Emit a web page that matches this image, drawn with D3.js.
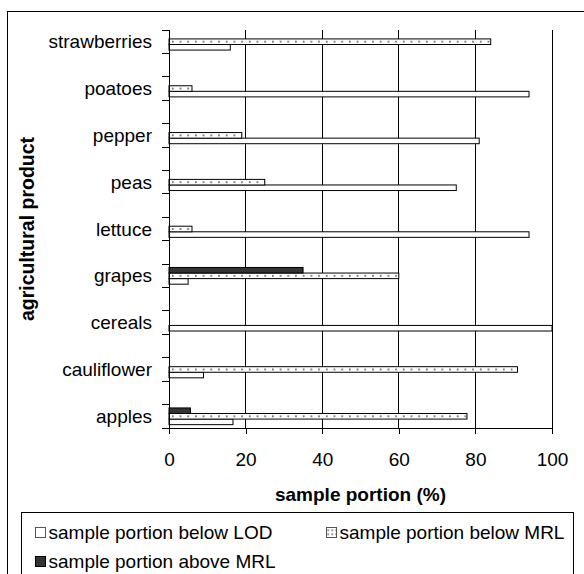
<!DOCTYPE html>
<meta charset="utf-8">
<style>
body { margin: 0; background: #fff; }
svg text {
  font-family: "Liberation Sans", Arial, Helvetica, sans-serif;
  font-size: 19px;
  fill: #000;
}
.title { font-weight: bold; }
.grid line, .axis line, .axis path { stroke: #000; stroke-width: 1px; shape-rendering: crispEdges; }
</style>
<body>
<svg width="584" height="574" id="chart"></svg>

<script src="https://cdn.jsdelivr.net/npm/d3@7"></script>
<script>

// data (percent of samples)
var categories = ["strawberries", "poatoes", "pepper", "peas", "lettuce", "grapes", "cereals", "cauliflower", "apples"];
var belowLOD = [16, 94, 81, 75, 94, 5, 100, 9, 16.7];
var belowMRL = [84, 6, 19, 25, 6, 60, 0, 91, 77.8];
var aboveMRL = [0, 0, 0, 0, 0, 35, 0, 0, 5.6];
var xTicks = [0, 20, 40, 60, 80, 100];
var seriesNames = ["sample portion below LOD", "sample portion below MRL", "sample portion above MRL"];

var margin = {top: 30, right: 32, bottom: 146, left: 169};
var width = 584 - margin.left - margin.right,
    height = 574 - margin.top - margin.bottom;

var svg = d3.select("#chart");

// outer frame of the chart area
svg.append("rect")
    .attr("x", 7.5).attr("y", 11.5)
    .attr("width", 700).attr("height", 700)
    .attr("fill", "#fff").attr("stroke", "#000");

// every category sits in its own slot, with an empty slot between them
var slots = [];
categories.forEach(function(c, i) {
  slots.push(c);
  if (i < categories.length - 1) slots.push("gap" + i);
});

var x = d3.scaleLinear().domain([0, 100]).range([0, width]);
var y = d3.scaleBand().domain(slots).range([0, height]).padding(0);

// top to bottom inside a category: above MRL, below MRL, below LOD
var sub = d3.scaleBand().domain(["above", "mrl", "lod"])
    .range([0, y.bandwidth()]).paddingInner(0).paddingOuter(0.6);

var defs = svg.append("defs");
var dots = defs.append("pattern")
    .attr("id", "dots")
    .attr("patternUnits", "userSpaceOnUse")
    .attr("width", 7.7)
    .attr("height", y.step());
dots.append("rect").attr("width", 7.7).attr("height", y.step()).attr("fill", "#fff");
dots.append("rect")
    .attr("x", 3).attr("y", sub("mrl") + sub.bandwidth() / 2 - 0.75)
    .attr("width", 1.5).attr("height", 1.5).attr("fill", "#333");

var dotsSmall = defs.append("pattern")
    .attr("id", "dotsSmall")
    .attr("patternUnits", "userSpaceOnUse")
    .attr("width", 4).attr("height", 4);
dotsSmall.append("rect").attr("width", 4).attr("height", 4).attr("fill", "#fff");
dotsSmall.append("rect").attr("x", 1).attr("y", 1).attr("width", 1.4).attr("height", 1.4).attr("fill", "#333");

var g = svg.append("g")
    .attr("transform", "translate(" + margin.left + "," + margin.top + ")");

// vertical gridlines
g.append("g").attr("class", "grid")
  .selectAll("line")
  .data(xTicks.slice(1))
  .enter().append("line")
    .attr("x1", function(d) { return x(d); })
    .attr("x2", function(d) { return x(d); })
    .attr("y1", 0)
    .attr("y2", height);

var series = [
  {key: "lod", values: belowLOD, fill: "#fff"},
  {key: "mrl", values: belowMRL, fill: "url(#dots)"},
  {key: "above", values: aboveMRL, fill: "#333"}
];

var rows = [];
series.forEach(function(s) {
  s.values.forEach(function(v, i) {
    if (v > 0) rows.push({cat: categories[i], key: s.key, value: v, fill: s.fill});
  });
});

g.selectAll(".bar")
  .data(rows)
  .enter().append("rect")
    .attr("class", "bar")
    .attr("x", x(0))
    .attr("y", function(d) { return y(d.cat) + sub(d.key); })
    .attr("width", function(d) { return x(d.value) - x(0); })
    .attr("height", sub.bandwidth())
    .attr("fill", function(d) { return d.fill; })
    .attr("stroke", "#000")
    .attr("stroke-width", 1);

// x axis
var xAxis = g.append("g")
    .attr("class", "axis")
    .attr("transform", "translate(0," + height + ")")
    .call(d3.axisBottom(x).tickValues(xTicks).tickSize(6).tickSizeOuter(0).tickPadding(19));
xAxis.attr("font-size", null).attr("font-family", null);

// y axis: line, slot ticks, category labels
var yAxis = g.append("g").attr("class", "axis");
yAxis.append("line").attr("x1", 0).attr("x2", 0).attr("y1", 0).attr("y2", height);
yAxis.selectAll(".tick")
  .data(slots.map(function(s) { return y(s); }).concat([height]))
  .enter().append("line")
    .attr("class", "tick")
    .attr("x1", -7).attr("x2", 0)
    .attr("y1", function(d) { return d; })
    .attr("y2", function(d) { return d; });
yAxis.selectAll(".label")
  .data(categories)
  .enter().append("text")
    .attr("class", "label")
    .attr("x", -17)
    .attr("y", function(d) { return y(d) + y.bandwidth() / 2; })
    .attr("dy", "0.35em")
    .attr("text-anchor", "end")
    .text(function(d) { return d; });

// axis titles
svg.append("text")
    .attr("class", "title")
    .attr("text-anchor", "middle")
    .attr("x", margin.left + width / 2)
    .attr("y", 501)
    .text("sample portion (%)");

svg.append("text")
    .attr("class", "title")
    .attr("text-anchor", "middle")
    .style("font-size", "19.5px")
    .attr("transform", "translate(34," + (margin.top + height / 2) + ") rotate(-90)")
    .text("agricultural product");

// legend
var legend = svg.append("g").attr("transform", "translate(21.5,512.5)");
legend.append("rect")
    .attr("width", 552).attr("height", 200)
    .attr("fill", "#fff").attr("stroke", "#000");

var swatches = ["#fff", "url(#dotsSmall)", "#333"];
var item = legend.selectAll(".item")
  .data(seriesNames)
  .enter().append("g")
    .attr("class", "item")
    .attr("transform", function(d, i) {
      return "translate(" + (14 + (i % 2) * 291) + "," + (20 + Math.floor(i / 2) * 29) + ")";
    });
item.append("rect")
    .attr("x", 0).attr("y", -5)
    .attr("width", 10).attr("height", 10)
    .attr("fill", function(d, i) { return swatches[i]; })
    .attr("stroke", function(d, i) { return i === 2 ? "#000" : "#555"; });
item.append("text")
    .attr("x", 13)
    .attr("dy", "0.35em")
    .text(function(d) { return d; });

</script>
</body>
